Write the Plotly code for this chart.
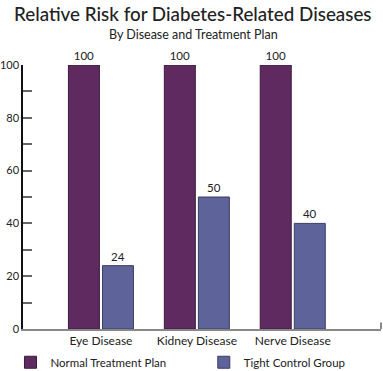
import plotly.graph_objects as go

categories = ["Eye Disease", "Kidney Disease", "Nerve Disease"]
normal_vals = [100, 100, 100]
tight_vals = [24, 50, 40]
series_names = ["Normal Treatment Plan", "Tight Control Group"]
ytick_vals = [0, 10, 20, 30, 40, 50, 60, 70, 80, 90, 100]
ytick_text = ["0", "", "20", "", "40", "", "60", "", "80", "", "100"]

FONT = "Lato"
TXT = "#222222"
C_NORMAL = "#5E2A60"
C_TIGHT = "#5E6399"

fig = go.Figure()
fig.add_trace(go.Bar(
    x=categories, y=normal_vals, name=series_names[0], legend="legend",
    marker=dict(color=C_NORMAL, line=dict(color="#3a1a3c", width=1)),
    text=[str(v) for v in normal_vals], textposition="outside",
    textfont=dict(family=FONT, size=11.5, color=TXT), cliponaxis=False,
))
fig.add_trace(go.Bar(
    x=categories, y=tight_vals, name=series_names[1], legend="legend2",
    marker=dict(color=C_TIGHT, line=dict(color="#3a3d66", width=1)),
    text=[str(v) for v in tight_vals], textposition="outside",
    textfont=dict(family=FONT, size=11.5, color=TXT), cliponaxis=False,
))

leg_common = dict(orientation="h", yanchor="middle", xanchor="left",
                  font=dict(family=FONT, size=11.5, color=TXT),
                  bgcolor="rgba(0,0,0,0)", itemclick=False)

fig.update_layout(
    width=383, height=371,
    margin=dict(l=23, r=2, t=65, b=42, autoexpand=False),
    paper_bgcolor="white", plot_bgcolor="white",
    barmode="group", bargap=0.29, bargroupgap=0.09,
    font=dict(family=FONT, size=12, color=TXT),
    showlegend=True,
    legend=dict(x=-0.035, y=-0.126, **leg_common),
    legend2=dict(x=0.505, y=-0.126, **leg_common),
    annotations=[
        dict(text="Relative Risk for Diabetes-Related Diseases", xref="paper", yref="paper",
             x=0.476, y=1, yshift=52, xanchor="center", yanchor="middle", showarrow=False,
             font=dict(family=FONT, size=18.8, color=TXT, weight=500)),
        dict(text="By Disease and Treatment Plan", xref="paper", yref="paper",
             x=0.476, y=1, yshift=31, xanchor="center", yanchor="middle", showarrow=False,
             font=dict(family=FONT, size=12.5, color=TXT)),
    ],
    shapes=[
        dict(type="line", xref="paper", yref="paper", x0=1, x1=1, y0=0, y1=0.025,
             line=dict(color="#888888", width=2)),
    ],
)
fig.update_xaxes(range=[-0.8125, 2.92], showline=True, linecolor="#888888", linewidth=2,
                 ticks="", tickfont=dict(family=FONT, size=12, color=TXT), showgrid=False,
                 zeroline=False, automargin=False)
fig.update_yaxes(range=[0, 100], showline=True, linecolor="#111111", linewidth=1.5,
                 ticks="inside", ticklen=9, tickwidth=2, tickcolor="#666666",
                 tickvals=ytick_vals, ticktext=ytick_text, showgrid=False, zeroline=False,
                 tickfont=dict(family=FONT, size=11, color=TXT), automargin=False)

fig.write_html("out.html", config={"displayModeBar": False},
               post_script="document.body.style.margin='0';")
